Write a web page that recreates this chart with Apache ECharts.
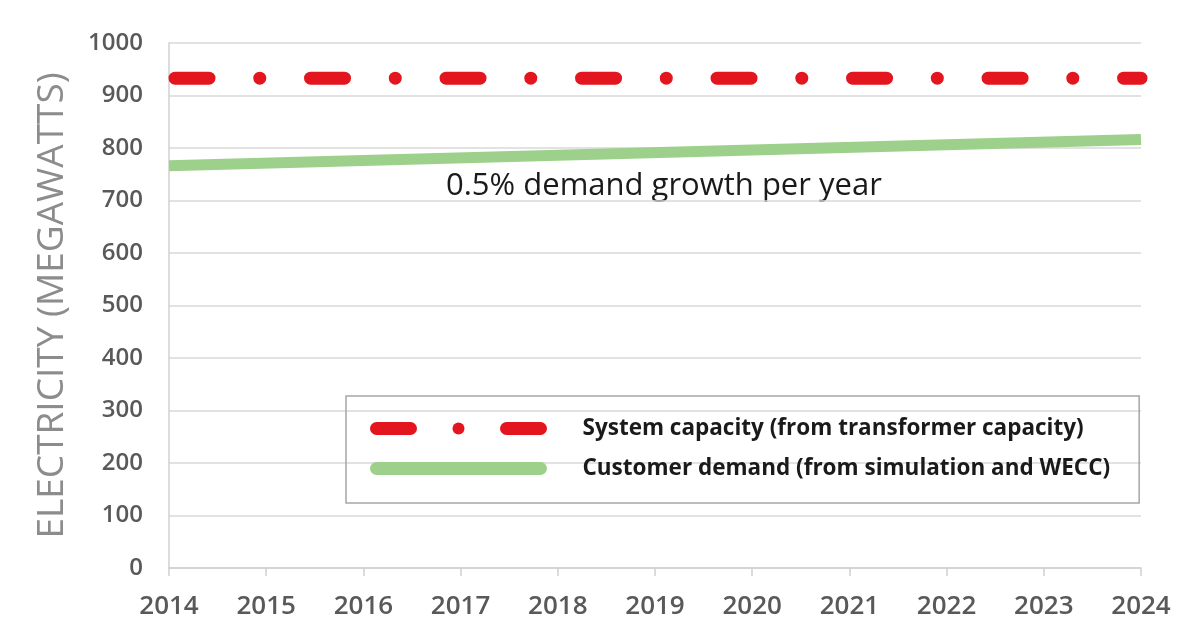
<!DOCTYPE html>
<html>
<head>
<meta charset="utf-8">
<script src="https://cdn.jsdelivr.net/npm/echarts@6/dist/echarts.min.js"></script>
<style>
  html, body { margin: 0; padding: 0; background: #fff; }
  #chart { width: 1178px; height: 642px; }
</style>
</head>
<body>
<div id="chart"></div>
<script>
  // values
  const years = [2014, 2024]
  const capacity = [933, 933]          // system capacity (MW)
  const demand = [766, 816]            // customer demand (MW)
  const yTicks = { min: 0, max: 1000, step: 100 }
  const seriesNames = ['System capacity (from transformer capacity)', 'Customer demand (from simulation and WECC)']
  const note = '0.5% demand growth per year'

  const red = '#e3151e'
  const green = '#9dd08b'
  const labelColor = '#595959'

  const chart = echarts.init(document.getElementById('chart'))
  chart.setOption({
    animation: false,
    backgroundColor: '#fff',
    grid: { left: 169, right: 37, top: 43, bottom: 74 },
    legend: {
      orient: 'vertical',
      left: 346,
      top: 396,
      padding: [21, 29, 23, 24],
      itemGap: 17,
      itemWidth: 164,
      itemHeight: 15,
      borderColor: '#a6a6a6',
      borderWidth: 1.5,
      textStyle: {
        fontFamily: 'Open Sans',
        fontWeight: 'bold',
        fontSize: 22.5,
        color: '#1a1a1a',
        padding: [0, 0, 0, 37]
      },
      data: [{
        name: seriesNames[0],
        // dash - dot - dash, the dot is the legend symbol
        lineStyle: { color: red, width: 13, cap: 'round', type: [34, 96], dashOffset: 0 },
        itemStyle: { color: red }
      }, {
        name: seriesNames[1],
        lineStyle: { color: green, width: 13, cap: 'round', type: 'solid' },
        itemStyle: { opacity: 0 }
      }]
    },
    graphic: [{
      type: 'text',
      left: 446,
      top: 171,
      style: {
        text: note,
        fontFamily: 'Open Sans',
        fontSize: 31,
        fill: '#1a1a1a'
      }
    }],
    xAxis: {
      type: 'value',
      min: years[0],
      max: years[years.length - 1],
      interval: 1,
      splitLine: { show: false },
      axisLine: { lineStyle: { color: '#d0d0d0', width: 1.5 } },
      axisTick: { show: true, length: 8, lineStyle: { color: '#d0d0d0', width: 1.5 } },
      axisLabel: {
        margin: 26,
        fontFamily: 'Open Sans',
        fontWeight: 600,
        fontSize: 26,
        color: labelColor,
        formatter: v => String(v)
      }
    },
    yAxis: {
      type: 'value',
      min: yTicks.min,
      max: yTicks.max,
      interval: yTicks.step,
      name: 'ELECTRICITY (MEGAWATTS)',
      nameLocation: 'middle',
      nameGap: 98,
      nameTextStyle: {
        fontFamily: 'Open Sans',
        fontSize: 37,
        color: '#8c8c8c'
      },
      axisLine: { show: true, lineStyle: { color: '#d0d0d0', width: 1.5 } },
      axisTick: { show: false },
      splitLine: { lineStyle: { color: '#d9d9d9', width: 1.5 } },
      axisLabel: {
        margin: 26,
        fontFamily: 'Open Sans',
        fontWeight: 600,
        fontSize: 24,
        color: labelColor,
        formatter: v => String(v)
      }
    },
    series: [{
      name: seriesNames[0],
      type: 'line',
      showSymbol: false,
      symbol: 'none',
      data: years.map((y, i) => [y, capacity[i]]),
      lineStyle: {
        color: red,
        width: 13,
        cap: 'round',
        type: [34, 50.75, 0.01, 50.75],
        dashOffset: 129.5
      },
      itemStyle: { color: red },
      z: 3
    }, {
      name: seriesNames[1],
      type: 'line',
      showSymbol: false,
      symbol: 'none',
      data: years.map((y, i) => [y, demand[i]]),
      lineStyle: { color: green, width: 11 },
      itemStyle: { color: green },
      z: 2
    }]
  })
</script>
</body>
</html>
